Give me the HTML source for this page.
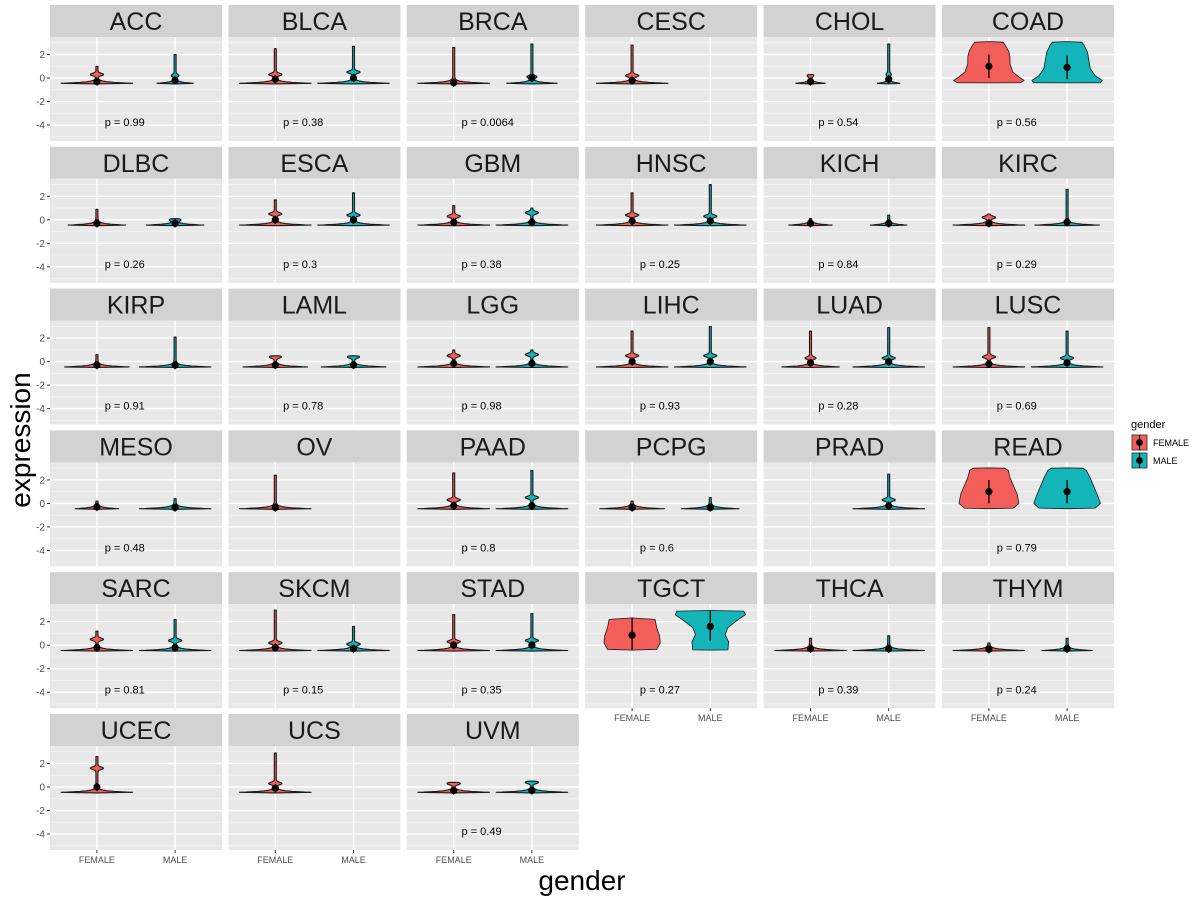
<!DOCTYPE html>
<html><head><meta charset="utf-8"><style>
html,body{margin:0;padding:0;background:#fff;}
svg{display:block;font-family:"Liberation Sans",Arial,sans-serif;}
</style></head><body>
<svg id="chart" width="1200" height="900"></svg>
<script>
const cancers=["ACC","BLCA","BRCA","CESC","CHOL","COAD","DLBC","ESCA","GBM","HNSC","KICH","KIRC","KIRP","LAML","LGG","LIHC","LUAD","LUSC","MESO","OV","PAAD","PCPG","PRAD","READ","SARC","SKCM","STAD","TGCT","THCA","THYM","UCEC","UCS","UVM"];
const pvals=["0.99","0.38","0.0064",null,"0.54","0.56","0.26","0.3","0.38","0.25","0.84","0.29","0.91","0.78","0.98","0.93","0.28","0.69","0.48",null,"0.8","0.6",null,"0.79","0.81","0.15","0.35","0.27","0.39","0.24",null,null,"0.49"];
const femaleMax=[1.0,2.5,2.6,2.8,0.3,3.1,0.9,1.7,1.2,2.3,0.1,0.5,0.6,0.5,1.0,2.6,2.6,2.9,0.2,2.4,2.6,0.2,null,3.0,1.2,3.0,2.6,2.3,0.6,0.2,2.6,2.9,0.4];
const femaleMean=[-0.3,-0.1,-0.4,-0.2,-0.3,1.0,-0.3,0.0,-0.2,-0.1,-0.3,-0.3,-0.3,-0.3,-0.15,0.0,-0.1,-0.2,-0.3,-0.35,-0.2,-0.35,null,1.0,-0.2,-0.2,0.0,0.85,-0.3,-0.35,0.0,-0.1,-0.3];
const femaleWidth=[1,1,1,1,0.4,1,0.8,1,1,1,0.6,1,0.9,0.9,1,1,0.8,1,0.6,1,1,0.9,null,1,1,1,1,1,1,1,1,1,1];
const femaleBump=[0.3,0.3,null,0.2,0.2,null,null,0.5,0.3,0.4,null,0.2,null,0.4,0.5,0.5,0.3,0.4,null,null,0.3,null,null,null,0.5,0.2,0.3,null,null,null,1.6,0.3,0.3];
const maleMax=[2.0,2.7,2.9,null,2.9,3.1,0.1,2.3,1.0,3.0,0.4,2.6,2.1,0.5,1.0,3.0,2.9,2.6,0.4,null,2.8,0.5,2.5,3.0,2.2,1.6,2.7,2.9,0.8,0.6,null,null,0.5];
const maleMean=[-0.2,0.0,0.0,null,-0.1,0.9,-0.3,0.0,-0.2,-0.1,-0.3,-0.2,-0.3,-0.3,-0.15,0.0,0.0,-0.1,-0.35,null,-0.2,-0.35,-0.2,1.0,-0.2,-0.3,0.0,1.6,-0.3,-0.3,null,null,-0.3];
const maleWidth=[0.5,1,0.7,null,0.3,1,0.8,1,1,1,0.5,0.9,1,0.9,1,1,1,1,1,null,1,0.8,1,1,1,1,1,1,1,0.7,null,null,1];
const maleBump=[0.2,0.5,0.1,null,0.3,null,0.0,0.4,0.6,0.3,null,null,null,0.4,0.6,0.5,0.3,0.3,null,null,0.5,null,0.3,null,0.4,0.1,0.4,null,null,null,null,null,0.4];
const profiles={
 "COAD-F":[[-0.42,0],[-0.4,0.9],[-0.2,1.0],[0.1,0.85],[0.5,0.68],[1.2,0.6],[1.8,0.6],[2.3,0.56],[2.8,0.46],[3.05,0.4],[3.1,0]],
 "COAD-M":[[-0.42,0],[-0.4,0.95],[-0.2,1.0],[0.2,0.8],[0.8,0.66],[1.5,0.62],[2.2,0.58],[2.8,0.48],[3.05,0.42],[3.1,0]],
 "READ-F":[[-0.45,0],[-0.4,0.7],[0,0.85],[0.8,0.8],[1.5,0.7],[2.2,0.6],[2.8,0.55],[3.0,0.45],[3.02,0]],
 "READ-M":[[-0.45,0],[-0.4,0.8],[0,0.95],[0.8,0.85],[1.5,0.75],[2.2,0.65],[2.8,0.55],[3.0,0.45],[3.02,0]],
 "TGCT-F":[[-0.42,0],[-0.35,0.7],[0.2,0.8],[0.8,0.78],[1.5,0.7],[2.2,0.65],[2.32,0]],
 "TGCT-M":[[-0.42,0],[-0.4,0.5],[0.3,0.52],[0.9,0.42],[1.5,0.5],[2.2,0.8],[2.6,1.0],[2.9,0.95],[2.95,0]]
};
const meanBars={"COAD-F":[0,2.0],"COAD-M":[-0.1,1.9],"READ-F":[0,2.0],"READ-M":[0,2.0],"TGCT-F":[-0.4,2.3],"TGCT-M":[0.4,2.9]};
const yTicks=[2,0,-2,-4];
const yMinor=[3,1,-1,-3,-5];
const genders=["FEMALE","MALE"];

const svg=document.getElementById('chart');
const NS="http://www.w3.org/2000/svg";
function mk(tag,attrs,parent,text){const e=document.createElementNS(NS,tag);for(const k in attrs)e.setAttribute(k,attrs[k]);if(text!=null)e.textContent=text;(parent||svg).appendChild(e);return e;}
const colL=50,colStep=178.4,pw=172,rowT=5,rowStep=141.8,sh=32,ph=104;
const yMax=3.49,yMin=-5.36;
const FCOL="#F35E5A",MCOL="#13B5B8";
function yS(top,v){return top+(yMax-v)/(yMax-yMin)*ph;}
function xS(left,u){return left+(u-0.4)/2.2*pw;}
const unitPx=pw/2.2;

cancers.forEach((name,i)=>{
 const c=i%6,r=Math.floor(i/6);
 const left=colL+c*colStep, st=rowT+r*rowStep, top=st+sh;
 const g=mk('g',{},svg);
 
 
 const strip=mk('rect',{x:left,y:st,width:pw,height:sh,fill:'#D2D2D2'},g);
 
 const stt=mk('text',{x:left+pw/2,y:st+25,'text-anchor':'middle','font-size':25,fill:'#1A1A1A'},g,name);
 
 const bg=mk('rect',{x:left,y:top,width:pw,height:ph,fill:'#E8E8E8'},g);
 
 yMinor.forEach(v=>{const yy=yS(top,v);if(yy>top&&yy<top+ph)mk('line',{x1:left,x2:left+pw,y1:yy,y2:yy,stroke:'#F5F5F5','stroke-width':0.7},g);});
 yTicks.forEach(v=>{const yy=yS(top,v);mk('line',{x1:left,x2:left+pw,y1:yy,y2:yy,stroke:'#fff','stroke-width':1.4},g);});
 [1,2].forEach(u=>{const xx=xS(left,u);mk('line',{x1:xx,x2:xx,y1:top,y2:top+ph,stroke:'#fff','stroke-width':1.4},g);});
 if(c===0){yTicks.forEach(v=>{const yy=yS(top,v);
   mk('line',{x1:left-3,x2:left,y1:yy,y2:yy,stroke:'#333','stroke-width':1},svg);
   const t=mk('text',{x:left-5,y:yy+3.5,'text-anchor':'end','font-size':10,fill:'#4D4D4D'},svg,String(v));
   });}
 const bottomRow=(c<3&&r===5)||(c>=3&&r===4);
 if(bottomRow){genders.forEach((gn,k)=>{const xx=xS(left,k+1);
   mk('line',{x1:xx,x2:xx,y1:top+ph,y2:top+ph+3,stroke:'#333'},svg);
   const t=mk('text',{x:xx,y:top+ph+13,'text-anchor':'middle','font-size':9,fill:'#4D4D4D'},svg,gn);
   });}
 const sets=[[femaleMax,femaleMean,femaleWidth,femaleBump,FCOL,'F',1],[maleMax,maleMean,maleWidth,maleBump,MCOL,'M',2]];
 sets.forEach(([mx,mn,wd,bp,col,key,u])=>{
  if(mx[i]==null)return;
  const cx=xS(left,u), pk=name+'-'+key;
  let pts=[];
  const broad=!!profiles[pk];
  if(broad){
   pts=profiles[pk].map(([v,w])=>[v,w*0.45*unitPx]);
  } else {
   const W=wd[i]*0.45*unitPx, lo=-0.45, hi=mx[i];
   pts.push([lo-0.05,0]);
   for(let v=lo;v<=hi;v+=0.02){
    let w=W*Math.exp(-(v-lo)/0.1)+1.0;
    if(bp[i]!=null)w+=W*0.16*Math.exp(-Math.pow((v-bp[i])/0.15,2));
    pts.push([v,w]);}
   pts.push([hi,0]);
  }
  let d='M'+pts.map(([v,w])=>(cx+w).toFixed(1)+','+yS(top,v).toFixed(1)).join(' L');
  d+=' L'+pts.slice().reverse().map(([v,w])=>(cx-w).toFixed(1)+','+yS(top,v).toFixed(1)).join(' L')+' Z';
  const p=mk('path',{d:d,fill:col,stroke:'#1a1a1a','stroke-width':broad?0.8:1.1},g);
  
  const bar=meanBars[pk]||[mn[i]-0.35,mn[i]+0.35];
  mk('line',{x1:cx,x2:cx,y1:yS(top,bar[0]),y2:yS(top,bar[1]),stroke:'#000','stroke-width':1.3},g);
  const dot=mk('circle',{cx:cx,cy:yS(top,mn[i]),r:3.6,fill:'#000'},g);
  
 });
 if(pvals[i]!=null){const t=mk('text',{x:xS(left,1.1),y:yS(top,-3.75)+4,'font-size':11,fill:'#000'},g,'p = '+pvals[i]);
  }
});
const yt=mk('text',{x:0,y:0,transform:'translate(30,440) rotate(-90)','text-anchor':'middle','font-size':28,fill:'#000'},svg,'expression');

const xt=mk('text',{x:582,y:890,'text-anchor':'middle','font-size':28,fill:'#000'},svg,'gender');

const lg=mk('g',{},svg);

mk('text',{x:1131,y:428,'font-size':11,fill:'#000'},lg,'gender');
[[FCOL,'FEMALE'],[MCOL,'MALE']].forEach(([col,lab],k)=>{
 const y0=434+k*18;
 const e=mk('g',{},lg);
 
 mk('rect',{x:1131,y:y0,width:17,height:17,fill:'#F2F2F2'},e);
 mk('rect',{x:1132,y:y0+1,width:15,height:15,fill:col,stroke:'#333','stroke-width':0.8},e);
 mk('line',{x1:1139.5,x2:1139.5,y1:y0+1,y2:y0+16,stroke:'#000','stroke-width':1.2},e);
 mk('circle',{cx:1139.5,cy:y0+8.5,r:3.4,fill:'#000'},e);
 mk('text',{x:1153,y:y0+12,'font-size':9,fill:'#000'},e,lab);
});
</script>
</body></html>
